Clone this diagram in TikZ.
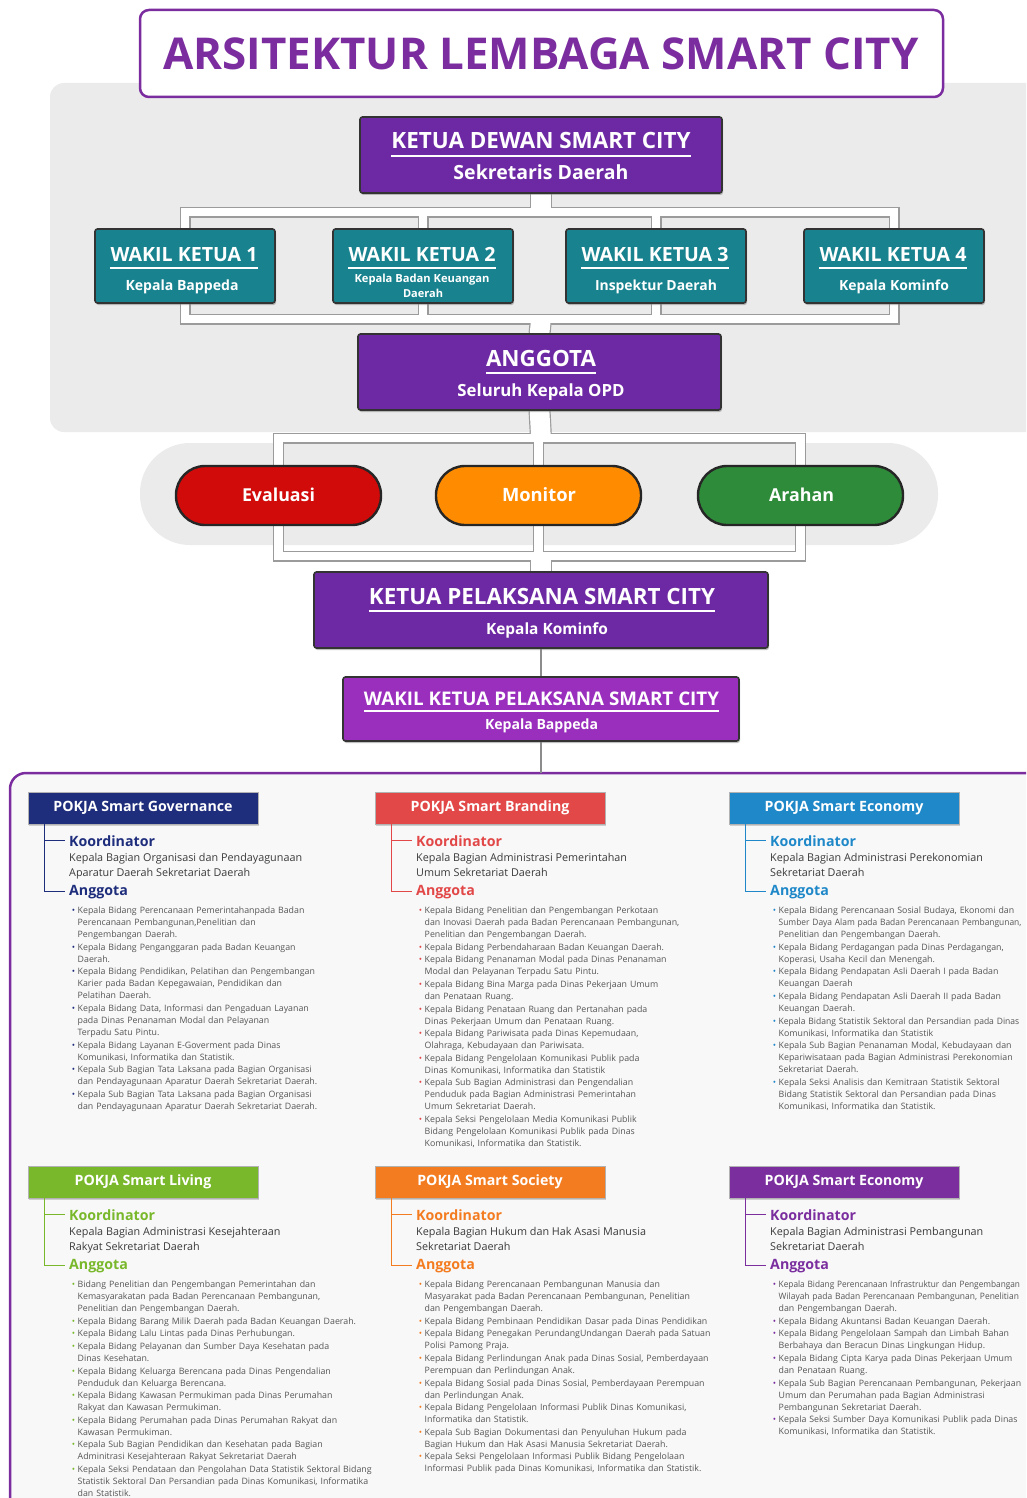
\documentclass[tikz,border=0pt]{standalone}
\usepackage{fontspec}
\setmainfont{Open Sans}
\usepackage{enumitem}
\usepackage{graphicx}
\usetikzlibrary{shadows}

\definecolor{ttl}{HTML}{7B2D9F}
\definecolor{kpur}{HTML}{6D28A3}
\definecolor{kteal}{HTML}{18838F}
\definecolor{wpur}{HTML}{9A2EBD}
\definecolor{kred}{HTML}{D10A0A}
\definecolor{kora}{HTML}{FF8C00}
\definecolor{kgrn}{HTML}{2E8B3A}
\definecolor{panelg}{HTML}{EBEBEB}
\definecolor{pipeg}{HTML}{9B9B9B}
\definecolor{cgov}{HTML}{1F2E7C}
\definecolor{cbrand}{HTML}{E24848}
\definecolor{ceco}{HTML}{1F88C8}
\definecolor{cliv}{HTML}{79B82B}
\definecolor{csoc}{HTML}{F47C20}
\definecolor{cpemb}{HTML}{7B2E9E}
\definecolor{ktxt}{HTML}{3A3A3A}
\definecolor{ltxt}{HTML}{555555}
\definecolor{bpanel}{HTML}{F8F8F9}

\newcommand\fw[2]{\resizebox{#1pt}{!}{#2}}
\newcommand\sq[2]{\scalebox{#1}[1]{#2}}
\newcommand\blist[2]{\begin{itemize}[label={\textcolor{#1}{\textbullet}},leftmargin=6.5pt,labelsep=2.5pt,itemsep=0.6pt,topsep=0pt,parsep=0pt,partopsep=0pt]#2\end{itemize}}

\tikzset{
 orgbox/.style={rectangle, draw=black!80, line width=1.6pt, rounded corners=2.5pt, drop shadow={shadow xshift=1pt, shadow yshift=-2pt, opacity=0.5}},
 pill/.style={rectangle, draw=black!85, line width=2.4pt, rounded corners=29pt, minimum width=205pt, minimum height=59pt},
 bt/.style={text=white, font=\bfseries, inner sep=0pt, anchor=base},
 uline/.style={draw=white, line width=1.1pt},
 pipeo/.style={draw=pipeg, line width=11pt},
 pipei/.style={draw=white, line width=8.6pt},
 trunko/.style={draw=pipeg, line width=22pt},
 trunki/.style={draw=white, line width=19.6pt},
 conn/.style={draw=black!45, line width=2pt},
 pokjahdr/.style={rectangle, minimum width=230pt, minimum height=32pt, inner sep=0pt, text=white, font=\bfseries\fontsize{14.2}{16}\selectfont, draw=black!30, line width=0.8pt, drop shadow={shadow xshift=1pt, shadow yshift=-1.5pt, opacity=0.35}},
 klabel/.style={anchor=base west, inner sep=0pt, font=\bfseries\fontsize{14.2}{16}\selectfont},
 ktext/.style={anchor=base west, inner sep=0pt, text=ktxt, font=\fontsize{10.8}{15}\selectfont},
 listbox/.style={anchor=north west, inner sep=0pt, text width=345pt, text=ltxt, font=\fontsize{8.8}{12}\selectfont},
 treeline/.style={line width=1.3pt},
}

\newcommand\pokja[8]{%
 \node[pokjahdr, fill=#4] (#1) at ({#2+115},{#3+16}) {#5};
 \node[klabel, text=#4] (#1-k) at ({#2+41},{#3+54}) {Koordinator};
 \node[ktext] (#1-kt) at ({#2+41},{#3+69}) {#6};
 \node[ktext] (#1-kt2) at ({#2+41},{#3+84}) {#7};
 \node[klabel, text=#4] (#1-a) at ({#2+41},{#3+103}) {Anggota};
 \node[listbox] (#1-l) at ({#2+43},{#3+109.5}) {\blist{#4}{#8}};
 \draw[treeline, #4] ([xshift=17pt]#1.south west) |- ([xshift=-4pt]#1-k.west);
 \draw[treeline, #4] ([xshift=17pt]#1.south west) |- ([xshift=-4pt]#1-a.west);
}

\newcommand\pipepaths[2]{%
 \draw[#1] (w1.north) |- (b1) -| (w4.north);
 \draw[#1] (w2.north) -- (w2.north |- b1);
 \draw[#1] (w3.north) -- (w3.north |- b1);
 \draw[#1] (w1.south) |- (b2) -| (w4.south);
 \draw[#1] (w2.south) -- (w2.south |- b2);
 \draw[#1] (w3.south) -- (w3.south |- b2);
 \draw[#1] (ev.north) |- (b3) -| (ar.north);
 \draw[#1] (mo.north) -- (mo.north |- b3);
 \draw[#1] (ev.south) |- (b4) -| (ar.south);
 \draw[#1] (mo.south) -- (mo.south |- b4);
 \draw[#2] (kd.south) -- (b1);
 \draw[#2] (b2) -- (ang.north);
 \draw[#2] (ang.south) -- (b3);
 \draw[#2] (b4) -- (kp.north);
}

\begin{document}
\begin{tikzpicture}[x=1pt,y=-1pt]
\clip (0,0) rectangle (1026,1498);
\fill[white] (0,0) rectangle (1026,1498);

% panels
\fill[panelg, rounded corners=14pt] (50,83) rectangle (1045,432);
\fill[panelg, rounded corners=50pt] (140,443) rectangle (938,545);

% title
\node[draw=ttl, line width=2.5pt, rounded corners=9pt, fill=white, minimum width=803pt, minimum height=87pt] (title) at (541.5,53.5) {};
\node[anchor=base, text=ttl, font=\bfseries, inner sep=0pt] (title-t) at (541,70) {\fw{755}{ARSITEKTUR LEMBAGA SMART CITY}};

% coordinates of bars
\coordinate (b1) at (541,212);
\coordinate (b2) at (541,319);
\coordinate (b3) at (541,438);
\coordinate (b4) at (541,556);

% box shapes (invisible first for anchors)
\path
 (541,155) node[minimum width=362pt, minimum height=76pt] (kd) {}
 (185,266) node[minimum width=180pt, minimum height=74pt] (w1) {}
 (423,266) node[minimum width=180pt, minimum height=74pt] (w2) {}
 (656,266) node[minimum width=180pt, minimum height=74pt] (w3) {}
 (894,266) node[minimum width=180pt, minimum height=74pt] (w4) {}
 (539.5,372) node[minimum width=363pt, minimum height=76pt] (ang) {}
 (278.5,495.5) node[minimum width=205pt, minimum height=59pt] (ev) {}
 (538.5,495.5) node[minimum width=205pt, minimum height=59pt] (mo) {}
 (800.5,495.5) node[minimum width=205pt, minimum height=59pt] (ar) {}
 (541,610) node[minimum width=454pt, minimum height=76pt] (kp) {}
 (541,709) node[minimum width=396pt, minimum height=64pt] (wkp) {};

% pipes
\pipepaths{pipeo}{trunko}
\pipepaths{pipei}{trunki}

% bottom panel
\coordinate (pt) at (541,773);
\fill[bpanel, rounded corners=16pt] (1040,773) -- (10,773) -- (10,1510) -- (1040,1510) -- cycle;
\draw[ttl, line width=2.5pt, rounded corners=16pt] (1040,773) -- (10,773) -- (10,1510);

\draw[conn] (kp.south) -- (wkp.north);
\draw[conn] (wkp.south) -- (pt);

% visible boxes
\node[orgbox, fill=kpur, minimum width=362pt, minimum height=76pt] at (kd) {};
\node[bt] (kd-t) at (541,149) {\fw{299}{KETUA DEWAN SMART CITY}};
\draw[uline] ([yshift=-7pt]kd-t.base west) -- ([yshift=-7pt]kd-t.base east);
\node[bt] (kd-s) at (541,179) {\fw{175}{Sekretaris Daerah}};

\node[orgbox, fill=kteal, minimum width=180pt, minimum height=74pt] at (w1) {};
\node[bt] (w1-t) at (184,261) {\fw{147}{WAKIL KETUA 1}};
\draw[uline] ([yshift=-7pt]w1-t.base west) -- ([yshift=-7pt]w1-t.base east);
\node[bt] (w1-s) at (182,290) {\fw{113}{Kepala Bappeda}};

\node[orgbox, fill=kteal, minimum width=180pt, minimum height=74pt] at (w2) {};
\node[bt] (w2-t) at (422,261) {\fw{147}{WAKIL KETUA 2}};
\draw[uline] ([yshift=-7pt]w2-t.base west) -- ([yshift=-7pt]w2-t.base east);
\node[bt] (w2-s) at (422,282) {\fw{135}{Kepala Badan Keuangan}};
\node[bt] (w2-s2) at (423,297) {\fw{40}{Daerah}};

\node[orgbox, fill=kteal, minimum width=180pt, minimum height=74pt] at (w3) {};
\node[bt] (w3-t) at (655,261) {\fw{147}{WAKIL KETUA 3}};
\draw[uline] ([yshift=-7pt]w3-t.base west) -- ([yshift=-7pt]w3-t.base east);
\node[bt] (w3-s) at (656,290) {\fw{122}{Inspektur Daerah}};

\node[orgbox, fill=kteal, minimum width=180pt, minimum height=74pt] at (w4) {};
\node[bt] (w4-t) at (893,261) {\fw{147}{WAKIL KETUA 4}};
\draw[uline] ([yshift=-7pt]w4-t.base west) -- ([yshift=-7pt]w4-t.base east);
\node[bt] (w4-s) at (894,290) {\fw{110}{Kepala Kominfo}};

\node[orgbox, fill=kpur, minimum width=363pt, minimum height=76pt] at (ang) {};
\node[bt] (ang-t) at (541,366) {\fw{110}{ANGGOTA}};
\draw[uline] ([yshift=-7pt]ang-t.base west) -- ([yshift=-7pt]ang-t.base east);
\node[bt] (ang-s) at (541,396) {\fw{167}{Seluruh Kepala OPD}};

\node[pill, fill=kred] at (ev) {};
\node[bt] (ev-t) at (278.5,501) {\fw{73}{Evaluasi}};
\node[pill, fill=kora] at (mo) {};
\node[bt] (mo-t) at (539,501) {\fw{74}{Monitor}};
\node[pill, fill=kgrn] at (ar) {};
\node[bt] (ar-t) at (801.5,501) {\fw{65}{Arahan}};

\node[orgbox, fill=kpur, minimum width=454pt, minimum height=76pt] at (kp) {};
\node[bt] (kp-t) at (542,604) {\fw{346}{KETUA PELAKSANA SMART CITY}};
\draw[uline] ([yshift=-7pt]kp-t.base west) -- ([yshift=-7pt]kp-t.base east);
\node[bt] (kp-s) at (547,634) {\fw{122}{Kepala Kominfo}};

\node[orgbox, fill=wpur, minimum width=396pt, minimum height=64pt] at (wkp) {};
\node[bt] (wkp-t) at (541.5,705) {\fw{355}{WAKIL KETUA PELAKSANA SMART CITY}};
\draw[uline] ([yshift=-6pt]wkp-t.base west) -- ([yshift=-6pt]wkp-t.base east);
\node[bt] (wkp-s) at (541.5,729) {\fw{113}{Kepala Bappeda}};

% POKJA sections
\pokja{gov}{28}{792}{cgov}{POKJA Smart Governance}{Kepala Bagian Organisasi dan Pendayagunaan}{Aparatur Daerah Sekretariat Daerah}{%
\item Kepala Bidang Perencanaan Pemerintahanpada Badan\\ Perencanaan Pembangunan,Penelitian dan\\ Pengembangan Daerah.
\item Kepala Bidang Penganggaran pada Badan Keuangan\\ Daerah.
\item Kepala Bidang Pendidikan, Pelatihan dan Pengembangan\\ Karier pada Badan Kepegawaian, Pendidikan dan\\ Pelatihan Daerah.
\item Kepala Bidang Data, Informasi dan Pengaduan Layanan\\ pada Dinas Penanaman Modal dan Pelayanan\\ Terpadu Satu Pintu.
\item Kepala Bidang Layanan E-Goverment pada Dinas\\ Komunikasi, Informatika dan Statistik.
\item Kepala Sub Bagian Tata Laksana pada Bagian  Organisasi\\ dan Pendayagunaan Aparatur Daerah Sekretariat Daerah.
\item Kepala Sub Bagian Tata Laksana pada Bagian Organisasi\\ dan Pendayagunaan Aparatur Daerah Sekretariat Daerah.}

\pokja{brand}{375}{792}{cbrand}{POKJA Smart Branding}{Kepala Bagian Administrasi Pemerintahan}{Umum Sekretariat Daerah}{%
\item Kepala Bidang Penelitian dan Pengembangan Perkotaan\\ dan Inovasi Daerah pada Badan Perencanaan Pembangunan,\\ Penelitian dan Pengembangan Daerah.
\item Kepala Bidang Perbendaharaan Badan Keuangan Daerah.
\item Kepala Bidang Penanaman Modal pada Dinas Penanaman\\ Modal dan Pelayanan Terpadu Satu Pintu.
\item Kepala Bidang Bina Marga pada Dinas Pekerjaan Umum\\ dan Penataan Ruang.
\item Kepala Bidang Penataan Ruang dan Pertanahan pada\\ Dinas Pekerjaan Umum dan Penataan Ruang.
\item Kepala Bidang Pariwisata pada Dinas Kepemudaan,\\ Olahraga, Kebudayaan dan Pariwisata.
\item Kepala Bidang Pengelolaan Komunikasi Publik pada\\ Dinas Komunikasi, Informatika dan Statistik
\item Kepala Sub Bagian Administrasi dan Pengendalian\\ Penduduk pada Bagian Administrasi Pemerintahan\\ Umum Sekretariat Daerah.
\item Kepala Seksi Pengelolaan Media Komunikasi Publik\\ Bidang Pengelolaan Komunikasi Publik pada Dinas\\ Komunikasi, Informatika dan Statistik.}

\pokja{eco}{729}{792}{ceco}{POKJA Smart Economy}{Kepala Bagian Administrasi Perekonomian}{Sekretariat Daerah}{%
\item Kepala Bidang Perencanaan Sosial Budaya, Ekonomi dan\\ \sq{0.955}{Sumber Daya Alam pada Badan Perencanaan Pembangunan,}\\ Penelitian dan Pengembangan Daerah.
\item Kepala Bidang Perdagangan pada Dinas Perdagangan,\\ Koperasi, Usaha Kecil dan Menengah.
\item Kepala Bidang Pendapatan Asli Daerah I pada Badan\\ Keuangan Daerah
\item Kepala Bidang Pendapatan Asli Daerah II pada Badan\\ Keuangan Daerah.
\item \sq{0.97}{Kepala Bidang Statistik Sektoral dan Persandian pada Dinas}\\ Komunikasi, Informatika dan Statistik
\item Kepala Sub Bagian Penanaman Modal, Kebudayaan dan\\ Kepariwisataan pada Bagian Administrasi Perekonomian\\ Sekretariat Daerah.
\item Kepala Seksi Analisis dan Kemitraan Statistik Sektoral\\ Bidang Statistik Sektoral dan Persandian pada Dinas\\ Komunikasi, Informatika dan Statistik.}

\pokja{liv}{28}{1166}{cliv}{POKJA Smart Living}{Kepala Bagian Administrasi Kesejahteraan}{Rakyat Sekretariat Daerah}{%
\item Bidang Penelitian dan Pengembangan Pemerintahan dan\\ Kemasyarakatan pada Badan Perencanaan Pembangunan,\\ Penelitian dan Pengembangan Daerah.
\item Kepala Bidang Barang Milik Daerah pada Badan Keuangan Daerah.
\item Kepala Bidang Lalu Lintas pada Dinas Perhubungan.
\item Kepala Bidang Pelayanan dan Sumber Daya Kesehatan pada\\ Dinas Kesehatan.
\item Kepala Bidang Keluarga Berencana pada Dinas Pengendalian\\ Penduduk dan Keluarga Berencana.
\item Kepala Bidang Kawasan Permukiman pada Dinas Perumahan\\ Rakyat dan Kawasan Permukiman.
\item Kepala Bidang Perumahan pada Dinas Perumahan Rakyat dan\\ Kawasan Permukiman.
\item Kepala Sub Bagian Pendidikan dan Kesehatan pada Bagian\\ Adminitrasi Kesejahteraan Rakyat Sekretariat Daerah
\item Kepala Seksi Pendataan dan Pengolahan Data Statistik Sektoral Bidang\\ Statistik Sektoral Dan Persandian pada Dinas Komunikasi, Informatika\\ dan Statistik.}

\pokja{soc}{375}{1166}{csoc}{POKJA Smart Society}{Kepala Bagian Hukum dan Hak Asasi Manusia}{Sekretariat Daerah}{%
\item Kepala Bidang Perencanaan Pembangunan Manusia dan\\ Masyarakat pada Badan Perencanaan Pembangunan, Penelitian\\ dan Pengembangan Daerah.
\item Kepala Bidang Pembinaan Pendidikan Dasar pada Dinas Pendidikan
\item Kepala Bidang Penegakan PerundangUndangan Daerah pada Satuan\\ Polisi Pamong Praja.
\item Kepala Bidang Perlindungan Anak pada Dinas Sosial, Pemberdayaan\\ Perempuan dan Perlindungan Anak.
\item Kepala Bidang Sosial pada Dinas Sosial, Pemberdayaan Perempuan\\ dan Perlindungan Anak.
\item Kepala Bidang Pengelolaan Informasi Publik Dinas Komunikasi,\\ Informatika dan Statistik.
\item Kepala Sub Bagian Dokumentasi dan Penyuluhan Hukum pada\\ Bagian Hukum dan Hak Asasi Manusia Sekretariat Daerah.
\item Kepala Seksi Pengelolaan Informasi Publik Bidang Pengelolaan\\ Informasi Publik pada Dinas Komunikasi, Informatika dan Statistik.}

\pokja{pemb}{729}{1166}{cpemb}{POKJA Smart Economy}{Kepala Bagian Administrasi Pembangunan}{Sekretariat Daerah}{%
\item \sq{0.94}{Kepala Bidang Perencanaan Infrastruktur dan Pengembangan}\\ \sq{0.96}{Wilayah pada Badan Perencanaan Pembangunan, Penelitian}\\ dan Pengembangan Daerah.
\item Kepala Bidang Akuntansi Badan Keuangan Daerah.
\item Kepala Bidang Pengelolaan Sampah dan Limbah Bahan\\ Berbahaya dan Beracun Dinas Lingkungan Hidup.
\item Kepala Bidang Cipta Karya pada Dinas Pekerjaan Umum\\ dan Penataan Ruang.
\item Kepala Sub Bagian Perencanaan Pembangunan, Pekerjaan\\ Umum dan Perumahan pada Bagian Administrasi\\ Pembangunan Sekretariat Daerah.
\item Kepala Seksi Sumber Daya Komunikasi Publik pada Dinas\\ Komunikasi, Informatika dan Statistik.}

\end{tikzpicture}
\end{document}
